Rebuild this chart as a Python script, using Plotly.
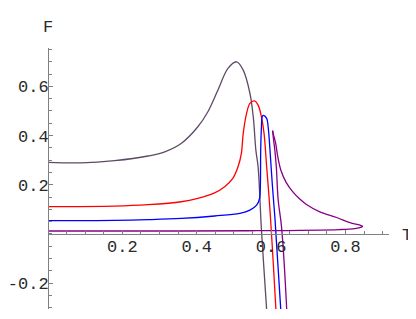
import numpy as np
import plotly.graph_objects as go

# Curve data (T, F)
dark_T = [0.0, 0.089, 0.179, 0.269, 0.314, 0.358, 0.403, 0.430, 0.457, 0.484, 0.507,
          0.525, 0.543, 0.552, 0.559, 0.565, 0.574, 0.588, 0.591]
dark_F = [0.291, 0.289, 0.298, 0.317, 0.334, 0.368, 0.436, 0.497, 0.585, 0.673, 0.700,
          0.666, 0.572, 0.476, 0.341, 0.273, 0.016, -0.309, -0.39]

red_T = [0.0, 0.179, 0.269, 0.358, 0.403, 0.448, 0.475, 0.497, 0.511, 0.520, 0.525,
         0.534, 0.543, 0.555, 0.565, 0.574, 0.581, 0.588, 0.595, 0.601, 0.613, 0.616]
red_F = [0.111, 0.113, 0.119, 0.131, 0.145, 0.167, 0.192, 0.226, 0.273, 0.328, 0.409,
         0.490, 0.531, 0.541, 0.524, 0.476, 0.409, 0.273, 0.138, 0.002, -0.309, -0.39]

blue_T = [0.0, 0.179, 0.269, 0.358, 0.448, 0.516, 0.543, 0.561, 0.569, 0.571, 0.572,
          0.574, 0.576, 0.579, 0.588, 0.592, 0.597, 0.603, 0.610, 0.614, 0.626, 0.629]
blue_F = [0.054, 0.055, 0.058, 0.063, 0.073, 0.084, 0.097, 0.117, 0.145, 0.192, 0.341,
          0.436, 0.476, 0.482, 0.470, 0.436, 0.341, 0.206, 0.070, -0.025, -0.309, -0.39]

purple_T = [0.0, 0.269, 0.538, 0.785, 0.825, 0.843, 0.846, 0.839, 0.812, 0.776, 0.731,
            0.695, 0.677, 0.659, 0.640, 0.626, 0.618, 0.612, 0.606, 0.604, 0.606, 0.610,
            0.614, 0.619, 0.628, 0.642, 0.644]
purple_F = [0.012, 0.012, 0.013, 0.018, 0.022, 0.028, 0.031, 0.036, 0.046, 0.067, 0.090,
            0.120, 0.142, 0.170, 0.211, 0.260, 0.313, 0.370, 0.406, 0.420, 0.390, 0.341,
            0.273, 0.138, 0.029, -0.309, -0.39]

x_ticks = [0.2, 0.4, 0.6, 0.8]
x_ticktext = ["0.2", "0.4", "0.6", "0.8"]
y_ticks = [-0.2, 0.2, 0.4, 0.6]
y_ticktext = ["-0.2", "0.2", "0.4", "0.6"]

x_range = [0.0, 0.917]
y_range = [-0.305, 0.756]


def segments(t, f, split_at_max=False):
    if not split_at_max:
        return [(t, f)]
    k = int(np.argmax(f))
    return [(t[:k + 1], f[:k + 1]), (t[k:], f[k:])]


series = [
    (dark_T, dark_F, "#5f4a66", False),
    (red_T, red_F, "#ff0000", False),
    (blue_T, blue_F, "#0000ff", False),
    (purple_T, purple_F, "#880088", True),
]

fig = go.Figure()
for t, f, c, sp in series:
    for st, sf in segments(t, f, sp):
        fig.add_trace(go.Scatter(x=st, y=sf, mode="lines",
                                 line=dict(color=c, width=1.3, shape="spline", smoothing=1.0),
                                 hoverinfo="skip", showlegend=False))

font = dict(family="Liberation Mono, monospace", size=17, color="#2a2a2a")
axcol = "#808080"
x_minor = [round(v, 2) for v in np.arange(0.05, 0.91, 0.05)]
y_minor = [round(v, 2) for v in np.arange(-0.3, 0.76, 0.05)]

# the page body has an 8px default margin, compensate in the figure margins
fig.update_layout(
    template="none",
    width=416, height=319,
    margin=dict(l=40, r=35, t=40, b=18, autoexpand=False),
    paper_bgcolor="white", plot_bgcolor="white",
    font=font,
    xaxis=dict(range=x_range, showgrid=False, zeroline=False, showline=True, linecolor=axcol, linewidth=1,
               anchor="free", position=(0 - y_range[0]) / (y_range[1] - y_range[0]), automargin=False,
               tickmode="array", tickvals=x_ticks, ticktext=x_ticktext, ticks="inside", ticklen=4,
               tickcolor=axcol, tickfont=font, ticklabelstandoff=-3,
               minor=dict(tickmode="array", tickvals=x_minor, ticks="inside", ticklen=2.5, tickcolor=axcol)),
    yaxis=dict(range=y_range, showgrid=False, zeroline=False, showline=True, linecolor=axcol, linewidth=1,
               anchor="free", position=0, automargin=False,
               tickmode="array", tickvals=y_ticks, ticktext=y_ticktext, ticks="inside", ticklen=4,
               tickcolor=axcol, tickfont=font, ticklabelstandoff=-4,
               minor=dict(tickmode="array", tickvals=y_minor, ticks="inside", ticklen=2.5, tickcolor=axcol)),
    annotations=[
        dict(text="F", xref="paper", yref="paper", x=0, y=1.078, xanchor="center", yanchor="middle",
             showarrow=False, font=font),
        dict(text="T", xref="paper", yref="paper", x=1.053, y=0.283, xanchor="center", yanchor="middle",
             showarrow=False, font=font),
    ],
)

fig.write_html("out.html")
